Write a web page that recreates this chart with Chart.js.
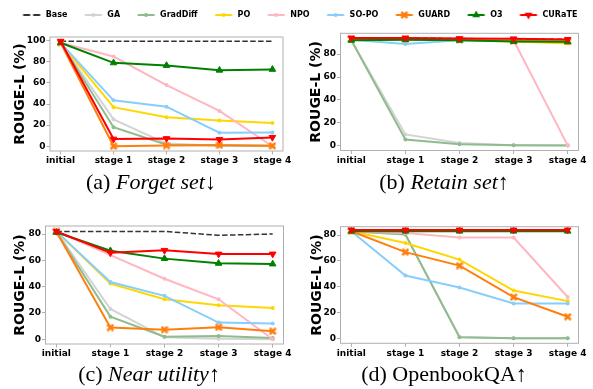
<!DOCTYPE html>
<html><head><meta charset="utf-8">
<script src="https://cdn.jsdelivr.net/npm/chart.js@4.4.0/dist/chart.umd.min.js"></script>
<style>
html,body{margin:0;padding:0;background:#fff;width:593px;height:389px;overflow:hidden;position:relative}
canvas{position:absolute}
.cap{position:absolute;font-family:"Liberation Serif","Times New Roman",serif;font-size:22px;line-height:22px;text-align:center;width:296px;white-space:nowrap;color:#000}
</style></head><body>
<canvas id="legend"></canvas>
<canvas id="pa"></canvas>
<canvas id="pb"></canvas>
<canvas id="pc"></canvas>
<canvas id="pd"></canvas>
<div class="cap" style="left:3px;top:170.6px">(a) <i>Forget set</i>↓</div>
<div class="cap" style="left:296px;top:170.6px">(b) <i>Retain set</i>↑</div>
<div class="cap" style="left:1px;top:362.6px">(c) <i>Near utility</i>↑</div>
<div class="cap" style="left:296px;top:362.6px">(d) OpenbookQA↑</div>
<script>
// ---------- data ----------
const xLabels = ['initial', 'stage 1', 'stage 2', 'stage 3', 'stage 4'];
const methods = ['Base', 'GA', 'GradDiff', 'PO', 'NPO', 'SO-PO', 'GUARD', 'O3', 'CURaTE'];

// (a) Forget set
const forgetBase     = [99.5, 99.5, 99.5, 99.5, 99.5];
const forgetGA       = [98, 25.5, 2.5, 0.5, 0.3];
const forgetGradDiff = [98, 18, 1.5, 1, 0.5];
const forgetPO       = [98, 37, 27.5, 24.5, 22];
const forgetNPO      = [98, 85, 58, 33.5, 0];
const forgetSOPO     = [98, 43.5, 37.5, 12.8, 13];
const forgetGUARD    = [98, 0, 0.6, 1, 0.4];
const forgetO3       = [98, 79, 76.5, 72, 72.8];
const forgetCURaTE   = [99.5, 6.8, 7.3, 6.5, 8.4];
const forgetTicks    = [0, 20, 40, 60, 80, 100];

// (b) Retain set
const retainBase     = [94, 94, 93.5, 93.3, 92.8];
const retainGA       = [92, 10, 2.5, 0.5, 0.5];
const retainGradDiff = [92, 5.5, 1.5, 0.5, 0.3];
const retainPO       = [93, 93, 92.5, 91, 89.3];
const retainNPO      = [93, 93, 92.5, 92, 0.5];
const retainSOPO     = [92.5, 88.7, 92, 91.5, 91];
const retainGUARD    = [93, 93, 92.5, 91.3, 91];
const retainO3       = [92, 92.5, 92, 91, 90.7];
const retainCURaTE   = [94, 94, 93.5, 93.3, 92.8];
const retainTicks    = [0, 20, 40, 60, 80];

// (c) Near utility
const nearBase     = [82, 82, 82, 79, 80];
const nearGA       = [82, 23, 1.5, 0.3, 0];
const nearGradDiff = [81.5, 17.2, 2, 2.5, 1];
const nearPO       = [82, 42.3, 30.4, 25.8, 23.8];
const nearNPO      = [82, 64, 46, 30.4, 0];
const nearSOPO     = [82, 43.5, 33, 12.7, 11.9];
const nearGUARD    = [82, 8.9, 7.3, 9.1, 6.1];
const nearO3       = [81.3, 67.3, 61.3, 57.7, 57.2];
const nearCURaTE   = [82, 65.8, 67.6, 64.8, 64.8];
const nearTicks    = [0, 20, 40, 60, 80];

// (d) OpenbookQA
const obqaBase     = [84, 84, 84, 84, 84];
const obqaGA       = [83, 80.5, 1, 0, 0];
const obqaGradDiff = [83, 80.5, 0.8, 0, 0];
const obqaPO       = [83, 73.8, 61, 37, 28.8];
const obqaNPO      = [83, 81.7, 78.1, 78.1, 32];
const obqaSOPO     = [83, 48.6, 39.3, 27, 27];
const obqaGUARD    = [83, 66.8, 56.3, 31.9, 16.7];
const obqaO3       = [83, 83, 83, 83, 83];
const obqaCURaTE   = [84, 84, 84, 84, 84];
const obqaTicks    = [0, 20, 40, 60, 80];

// ---------- styles ----------
Chart.defaults.font.family = "'DejaVu Sans', sans-serif";
Chart.defaults.color = '#000';
const colors = ['#333333', '#d3d3d3', '#8fbc8f', '#ffd700', '#ffb6c1', '#87cefa', '#ff7f0e', '#008000', '#ff0000'];
const frameColor = '#b0b0b0';

function xMarker(color) {
  const c = document.createElement('canvas');
  c.width = 8; c.height = 8;
  const g = c.getContext('2d');
  g.strokeStyle = color; g.lineWidth = 2.5;
  g.beginPath(); g.moveTo(1, 1); g.lineTo(7, 7); g.moveTo(7, 1); g.lineTo(1, 7); g.stroke();
  g.fillStyle = color; g.fillRect(2.5, 2.5, 3, 3);
  return c;
}
const guardMark = xMarker(colors[6]);
const pStyle = ['circle', 'circle', 'circle', 'circle', 'circle', 'circle', guardMark, 'triangle', 'triangle'];
const pRadius = [0, 2, 2, 2, 2, 2, 4, 3.8, 3.8];
const pRot = [0, 0, 0, 0, 0, 0, 0, 0, 180];

function legendIcon(i) {
  const c = document.createElement('canvas');
  c.width = 20; c.height = 12;
  const g = c.getContext('2d');
  const col = colors[i];
  g.strokeStyle = col; g.fillStyle = col;
  g.lineWidth = 2;
  if (i === 0) g.setLineDash([7, 3]);
  g.beginPath(); g.moveTo(1.5, 6); g.lineTo(18.5, 6); g.stroke();
  g.setLineDash([]);
  const cx = 10, cy = 6;
  if (i >= 1 && i <= 5) { g.beginPath(); g.arc(cx, cy, 2, 0, Math.PI * 2); g.fill(); }
  if (i === 6) { g.drawImage(guardMark, cx - 4, cy - 4); }
  if (i === 7 || i === 8) {
    const r = 4.5, s = i === 7 ? 1 : -1;
    g.beginPath();
    g.moveTo(cx, cy - s * r);
    g.lineTo(cx + r * 0.866, cy + s * r * 0.5);
    g.lineTo(cx - r * 0.866, cy + s * r * 0.5);
    g.closePath(); g.fill();
  }
  return c;
}

const framePlugin = {
  id: 'frame',
  afterDatasetsDraw(chart) {
    const {ctx, chartArea: a} = chart;
    ctx.save();
    ctx.strokeStyle = frameColor; ctx.lineWidth = 1;
    ctx.strokeRect(a.left, a.top, a.right - a.left, a.bottom - a.top);
    ctx.restore();
  }
};

function makePanel(id, box, plot, yMin, yMax, yTicks, titleX, series) {
  const cv = document.getElementById(id);
  cv.width = box.w; cv.height = box.h;
  cv.style.left = box.l + 'px'; cv.style.top = box.t + 'px';
  const padL = 2;
  const yW = plot.l - box.l - padL;
  const xH = box.t + box.h - plot.b;
  const titlePad = titleX - box.l - padL - 8.4;
  const datasets = series.map((vals, i) => ({
    label: methods[i],
    data: vals.map((v, k) => ({x: k, y: v})),
    borderColor: colors[i],
    backgroundColor: colors[i],
    borderWidth: i === 0 ? 1.5 : 2,
    borderDash: i === 0 ? [5.5, 2.4] : [],
    pointStyle: pStyle[i],
    pointRadius: pRadius[i],
    pointRotation: pRot[i],
    pointBorderWidth: (i === 7 || i === 8) ? 1 : 0,
    order: methods.length - i,
    tension: 0,
    fill: false
  }));
  const gridOpt = {drawOnChartArea: false, drawTicks: true, tickLength: 3.5, color: frameColor};
  new Chart(cv, {
    type: 'line',
    data: {datasets},
    options: {
      responsive: false, animation: false, events: [],
      layout: {padding: {left: padL, top: plot.t - box.t, right: box.l + box.w - plot.r, bottom: 0}},
      plugins: {legend: {display: false}, tooltip: {enabled: false}},
      scales: {
        x: {
          type: 'linear', min: -0.2, max: 4.2,
          afterBuildTicks: s => { s.ticks = xLabels.map((_, k) => ({value: k})); },
          afterFit: s => { s.height = xH; },
          ticks: {callback: v => xLabels[v], font: {size: 9, weight: 'bold'}, padding: 1, maxRotation: 0, autoSkip: false},
          grid: gridOpt, border: {display: false}
        },
        y: {
          min: yMin, max: yMax,
          afterBuildTicks: s => { s.ticks = yTicks.map(v => ({value: v})); },
          afterFit: s => { s.width = yW; },
          ticks: {font: {size: 9, weight: 'bold'}, padding: 1},
          grid: gridOpt, border: {display: false},
          title: {display: true, text: 'ROUGE-L (%)', font: {size: 14, weight: 'bold'}, padding: {top: titlePad, bottom: 0}}
        }
      }
    },
    plugins: [framePlugin]
  });
}

makePanel('pa', {l: 0, t: 25, w: 295, h: 150}, {l: 50, t: 37, r: 283, b: 151}, -4.5, 103.5, forgetTicks, 20,
  [forgetBase, forgetGA, forgetGradDiff, forgetPO, forgetNPO, forgetSOPO, forgetGUARD, forgetO3, forgetCURaTE]);
makePanel('pb', {l: 295, t: 25, w: 298, h: 150}, {l: 340.5, t: 33.3, r: 578.5, b: 150.5}, -4.0, 98.1, retainTicks, 316.5,
  [retainBase, retainGA, retainGradDiff, retainPO, retainNPO, retainSOPO, retainGUARD, retainO3, retainCURaTE]);
makePanel('pc', {l: 0, t: 215, w: 295, h: 150}, {l: 45.5, t: 226, r: 283.5, b: 344}, -3.6, 86.1, nearTicks, 20,
  [nearBase, nearGA, nearGradDiff, nearPO, nearNPO, nearSOPO, nearGUARD, nearO3, nearCURaTE]);
makePanel('pd', {l: 295, t: 215, w: 298, h: 150}, {l: 340.5, t: 226.7, r: 578.5, b: 343.3}, -3.9, 86.5, obqaTicks, 317,
  [obqaBase, obqaGA, obqaGradDiff, obqaPO, obqaNPO, obqaSOPO, obqaGUARD, obqaO3, obqaCURaTE]);

// legend
const icons = methods.map((_, i) => legendIcon(i));
const lc = document.getElementById('legend');
lc.width = 593; lc.height = 120;
lc.style.left = '3px'; lc.style.top = '-5px';
new Chart(lc, {
  type: 'line',
  data: {datasets: methods.map(m => ({label: m, data: []}))},
  options: {
    responsive: false, animation: false, events: [],
    scales: {x: {display: false}, y: {display: false}},
    plugins: {
      tooltip: {enabled: false},
      legend: {
        display: true, position: 'top', align: 'center',
        labels: {
          usePointStyle: true, pointStyleWidth: 20, boxHeight: 8, padding: 16,
          font: {size: 8, weight: 'bold'}, color: '#000',
          generateLabels: () => methods.map((m, i) => ({
            text: m, pointStyle: icons[i], fillStyle: 'rgba(0,0,0,0)', strokeStyle: 'rgba(0,0,0,0)',
            lineWidth: 0, hidden: false, datasetIndex: i
          }))
        }
      }
    }
  }
});
</script>
</body></html>
